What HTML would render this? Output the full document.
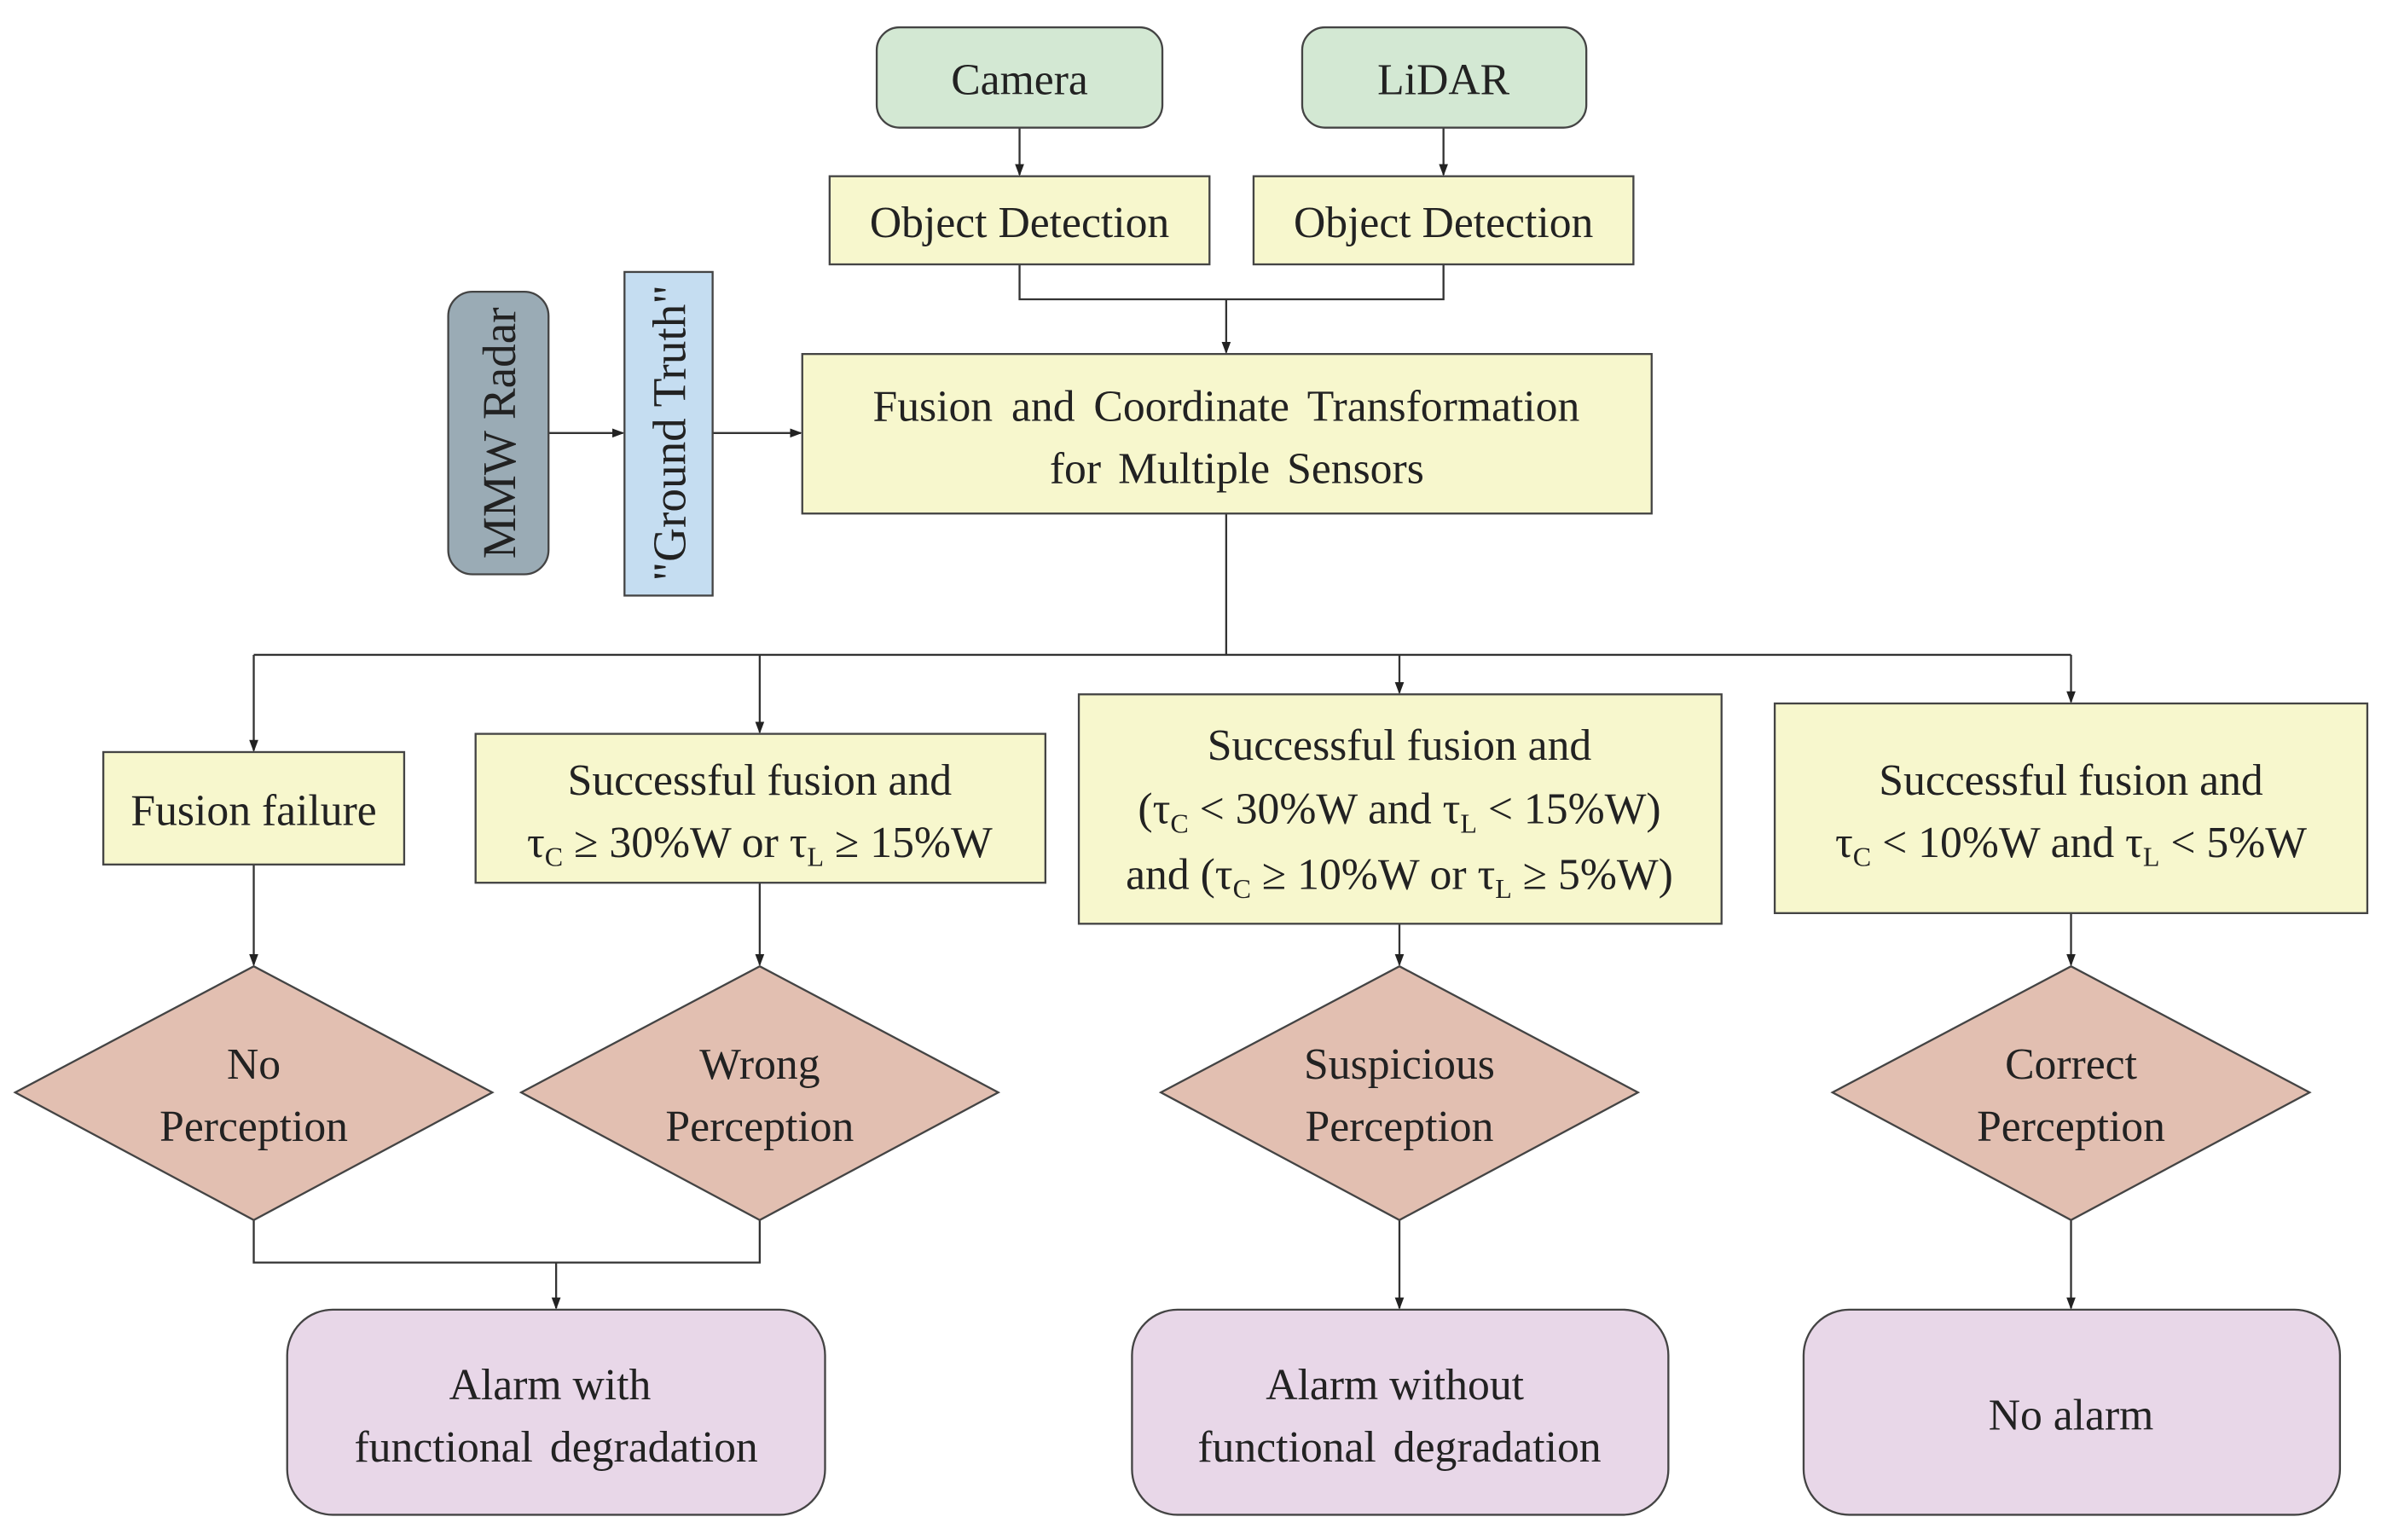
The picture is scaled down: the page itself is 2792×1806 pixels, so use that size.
<!DOCTYPE html>
<html><head><meta charset="utf-8"><style>
html,body{margin:0;padding:0;background:#fff;}
svg{display:block;}
text{font-family:"Liberation Serif",serif;font-size:29px;fill:#222;text-anchor:middle;}
.s{font-size:18px;}
.r{font-size:31px;}
</style></head><body>
<svg width="2792" height="1806" viewBox="0 0 1567 1013.6" preserveAspectRatio="none" xmlns="http://www.w3.org/2000/svg">
<defs><marker id="a" markerWidth="8" markerHeight="8" refX="7" refY="4" orient="auto" markerUnits="userSpaceOnUse"><path d="M0,1 L8,4 L0,7 Z" fill="#222"/></marker></defs>
<g stroke="#333" stroke-width="1.3" fill="none">
<line x1="671" y1="84" x2="671" y2="115" marker-end="url(#a)"/>
<line x1="950" y1="84" x2="950" y2="115" marker-end="url(#a)"/>
<polyline points="671,174 671,197 950,197 950,174"/>
<line x1="807" y1="197" x2="807" y2="232" marker-end="url(#a)"/>
<line x1="361" y1="285" x2="410" y2="285" marker-end="url(#a)"/>
<line x1="469" y1="285" x2="527" y2="285" marker-end="url(#a)"/>
<line x1="807" y1="338" x2="807" y2="431"/>
<line x1="167" y1="431" x2="1363" y2="431"/>
<line x1="167" y1="431" x2="167" y2="494" marker-end="url(#a)"/>
<line x1="500" y1="431" x2="500" y2="482" marker-end="url(#a)"/>
<line x1="921" y1="431" x2="921" y2="456" marker-end="url(#a)"/>
<line x1="1363" y1="431" x2="1363" y2="462" marker-end="url(#a)"/>
<line x1="167" y1="569" x2="167" y2="635" marker-end="url(#a)"/>
<line x1="500" y1="581" x2="500" y2="635" marker-end="url(#a)"/>
<line x1="921" y1="608" x2="921" y2="635" marker-end="url(#a)"/>
<line x1="1363" y1="601" x2="1363" y2="635" marker-end="url(#a)"/>
<polyline points="167,803 167,831 500,831 500,803"/>
<line x1="366" y1="831" x2="366" y2="861" marker-end="url(#a)"/>
<line x1="921" y1="803" x2="921" y2="861" marker-end="url(#a)"/>
<line x1="1363" y1="803" x2="1363" y2="861" marker-end="url(#a)"/>
</g>
<g stroke="#444" stroke-width="1.3">
<rect x="577" y="18" width="188" height="66" rx="15" fill="#d3e8d3"/>
<rect x="857" y="18" width="187" height="66" rx="15" fill="#d3e8d3"/>
<rect x="546" y="116" width="250" height="58" fill="#f7f7cd"/>
<rect x="825" y="116" width="250" height="58" fill="#f7f7cd"/>
<rect x="295" y="192" width="66" height="186" rx="16" fill="#9aabb5"/>
<rect x="411" y="179" width="58" height="213" fill="#c5ddf1"/>
<rect x="528" y="233" width="559" height="105" fill="#f7f7cd"/>
<rect x="68" y="495" width="198" height="74" fill="#f7f7cd"/>
<rect x="313" y="483" width="375" height="98" fill="#f7f7cd"/>
<rect x="710" y="457" width="423" height="151" fill="#f7f7cd"/>
<rect x="1168" y="463" width="390" height="138" fill="#f7f7cd"/>
<polygon points="167,636 324,719 167,803 10,719" fill="#e2bfb1"/>
<polygon points="500,636 657,719 500,803 343,719" fill="#e2bfb1"/>
<polygon points="921,636 1078,719 921,803 764,719" fill="#e2bfb1"/>
<polygon points="1363,636 1520,719 1363,803 1206,719" fill="#e2bfb1"/>
<rect x="189" y="862" width="354" height="135" rx="30" fill="#e8d7e8"/>
<rect x="745" y="862" width="353" height="135" rx="30" fill="#e8d7e8"/>
<rect x="1187" y="862" width="353" height="135" rx="30" fill="#e8d7e8"/>
</g>
<text x="671" y="62">Camera</text>
<text x="950" y="62">LiDAR</text>
<text x="671" y="156">Object Detection</text>
<text x="950" y="156">Object Detection</text>
<text class="r" transform="translate(339,285) rotate(-90)">MMW Radar</text>
<text class="r" transform="translate(451,285) rotate(-90)">"Ground Truth"</text>
<text x="807" y="277" word-spacing="5">Fusion and Coordinate Transformation</text>
<text x="814" y="318" word-spacing="4">for Multiple Sensors</text>
<text x="167" y="543">Fusion failure</text>
<text x="500" y="523">Successful fusion and</text>
<text x="500" y="564">τ<tspan class="s" dy="6">C</tspan><tspan dy="-6"> ≥ 30%W or τ</tspan><tspan class="s" dy="6">L</tspan><tspan dy="-6"> ≥ 15%W</tspan></text>
<text x="921" y="500">Successful fusion and</text>
<text x="921" y="542">(τ<tspan class="s" dy="6">C</tspan><tspan dy="-6"> &lt; 30%W and τ</tspan><tspan class="s" dy="6">L</tspan><tspan dy="-6"> &lt; 15%W)</tspan></text>
<text x="921" y="585">and (τ<tspan class="s" dy="6">C</tspan><tspan dy="-6"> ≥ 10%W or τ</tspan><tspan class="s" dy="6">L</tspan><tspan dy="-6"> ≥ 5%W)</tspan></text>
<text x="1363" y="523">Successful fusion and</text>
<text x="1363" y="564">τ<tspan class="s" dy="6">C</tspan><tspan dy="-6"> &lt; 10%W and τ</tspan><tspan class="s" dy="6">L</tspan><tspan dy="-6"> &lt; 5%W</tspan></text>
<text x="167" y="710">No</text><text x="167" y="751">Perception</text>
<text x="500" y="710">Wrong</text><text x="500" y="751">Perception</text>
<text x="921" y="710">Suspicious</text><text x="921" y="751">Perception</text>
<text x="1363" y="710">Correct</text><text x="1363" y="751">Perception</text>
<text x="362" y="921">Alarm with</text>
<text x="366" y="962" word-spacing="4">functional degradation</text>
<text x="918" y="921">Alarm without</text>
<text x="921" y="962" word-spacing="4">functional degradation</text>
<text x="1363" y="941">No alarm</text>
</svg>
</body></html>
